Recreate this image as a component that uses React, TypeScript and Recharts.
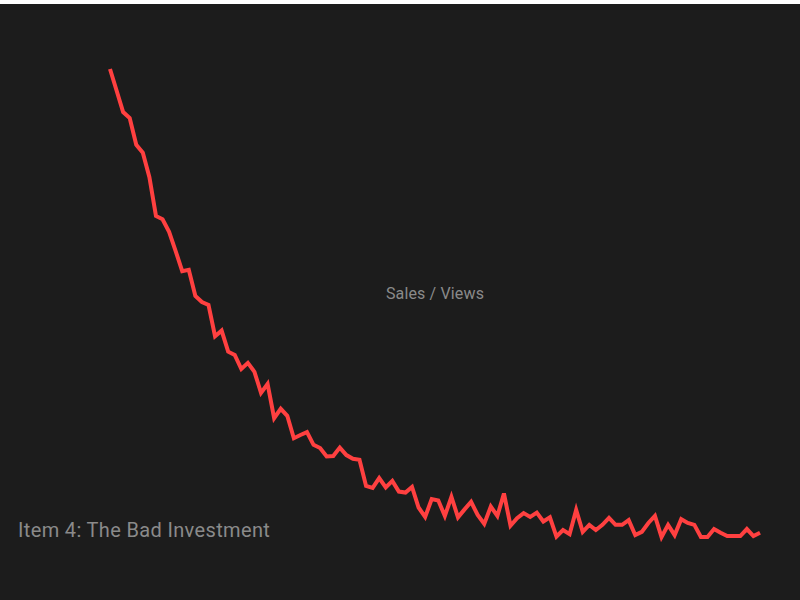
import React from "react";
import { LineChart, Line, XAxis, YAxis } from "recharts";

const points: number[] = [
  100, 95.4, 90.8, 89.5, 83.8, 82.1, 76.9, 68.6, 67.9, 65.2,
  61.1, 56.8, 57.1, 51.5, 50.2, 49.6, 42.9, 44.1, 39.6, 38.9,
  35.9, 37.2, 35.3, 30.8, 32.7, 25.4, 27.4, 25.9, 21.1, 21.8,
  22.4, 19.7, 19.0, 17.2, 17.3, 19.1, 17.5, 16.7, 16.5, 10.9,
  10.5, 12.6, 10.6, 12.0, 9.7, 9.5, 10.7, 6.3, 4.3, 8.1,
  7.8, 4.5, 8.6, 4.2, 5.9, 7.5, 4.7, 2.8, 6.5, 4.5,
  9.3, 2.4, 4.0, 5.1, 4.3, 5.2, 3.3, 4.2, 0.1, 1.5,
  0.6, 5.8, 1.1, 2.6, 1.5, 2.6, 4.1, 2.6, 2.6, 3.6,
  0.4, 1.1, 3.0, 4.5, 0.0, 2.6, 0.4, 3.8, 3.0, 2.6,
  0.0, 0.0, 1.7, 0.9, 0.2, 0.2, 0.2, 1.7, 0.2, 0.9,
];

const periods: number[] = points.map((_, i) => i + 1);

const chartTitle = "Sales / Views";
const itemLabel = "Item 4: The Bad Investment";

const data = periods.map((p, i) => ({ period: p, value: points[i] }));

export default function App() {
  return (
    <div
      style={{
        position: "absolute",
        left: 0,
        top: 4,
        width: 800,
        height: 596,
        background: "#1c1c1c",
      }}
    >
      <LineChart
        width={800}
        height={596}
        data={data}
        margin={{ top: 65, right: 40, bottom: 63, left: 110 }}
      >
        <XAxis dataKey="period" hide />
        <YAxis hide domain={[0, 100]} />
        <Line
          type="linear"
          dataKey="value"
          stroke="#ff4040"
          strokeWidth={4}
          dot={false}
          isAnimationActive={false}
        />
        <text
          x={435}
          y={295}
          textAnchor="middle"
          fill="#8a8a8a"
          fontSize={16}
          letterSpacing={0.15}
          fontFamily="Roboto, 'Open Sans', sans-serif"
        >
          {chartTitle}
        </text>
        <text
          x={18}
          y={533}
          textAnchor="start"
          fill="#8a8a8a"
          fontSize={20}
          letterSpacing={0.35}
          fontFamily="Roboto, 'Open Sans', sans-serif"
        >
          {itemLabel}
        </text>
      </LineChart>
    </div>
  );
}
